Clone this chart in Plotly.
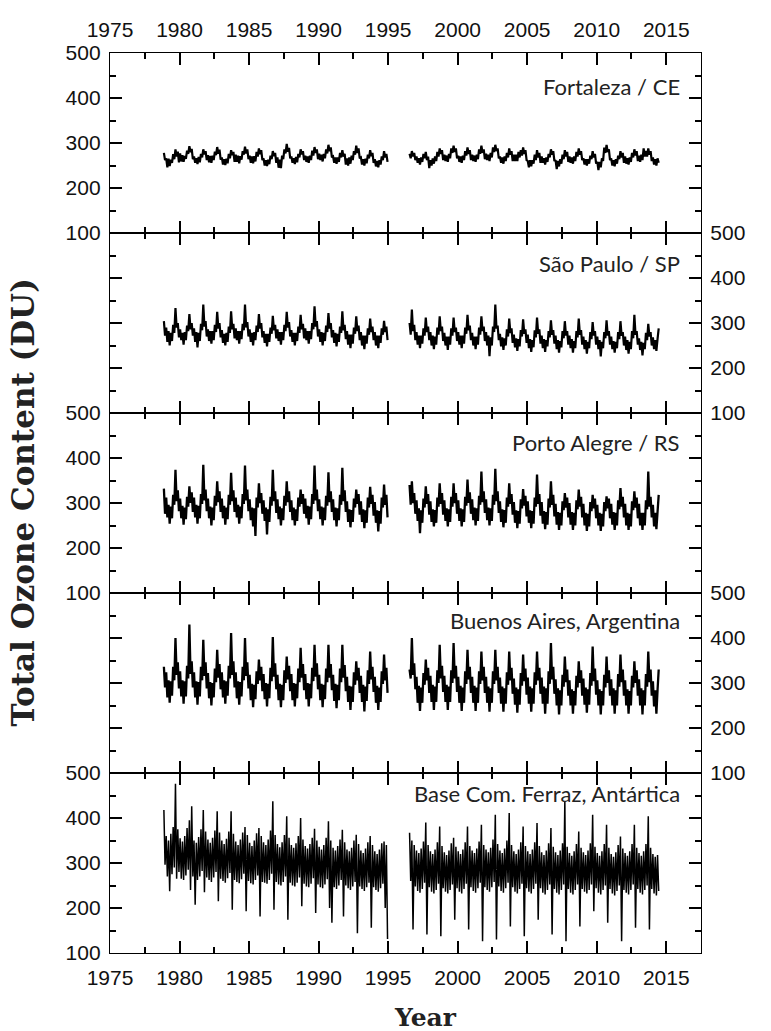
import plotly.graph_objects as go

# ---------------- data ----------------
YEAR_TICKS = [1975, 1980, 1985, 1990, 1995, 2000, 2005, 2010, 2015]
Y_TICKS = [100, 200, 300, 400, 500]
STATIONS = ["Fortaleza / CE", "São Paulo / SP", "Porto Alegre / RS",
            "Buenos Aires, Argentina", "Base Com. Ferraz, Antártica"]
SEG1_START = (1978, 11)   # first month of segment 1 (Nov 1978 .. Dec 1994)
SEG2_START = (1996, 7)    # first month of segment 2 (Jul 1996 .. Jun 2014)

# monthly samples (alternating daily highs / lows), DU
FORTALEZA_1 = [
    [278, 262],
    [266, 246, 265, 249, 263, 256, 275, 264, 286, 270, 281, 257],
    [277, 259, 273, 258, 271, 265, 283, 276, 293, 280, 287, 264],
    [270, 256, 266, 253, 269, 257, 276, 268, 286, 275, 282, 262],
    [273, 257, 271, 256, 272, 262, 281, 273, 291, 276, 285, 263],
    [268, 252, 264, 251, 265, 255, 276, 266, 284, 273, 280, 258],
    [274, 258, 272, 255, 271, 263, 282, 274, 292, 277, 286, 264],
    [272, 256, 270, 255, 271, 259, 280, 270, 288, 275, 284, 262],
    [266, 250, 262, 249, 263, 253, 272, 264, 282, 271, 278, 256],
    [268, 245, 263, 244, 272, 264, 286, 277, 298, 281, 289, 266],
    [270, 256, 266, 253, 269, 257, 276, 268, 286, 275, 282, 262],
    [272, 258, 270, 256, 272, 262, 283, 272, 291, 278, 286, 264],
    [276, 262, 274, 259, 276, 266, 286, 277, 296, 282, 290, 268],
    [270, 256, 268, 254, 268, 258, 278, 268, 284, 270, 276, 252],
    [266, 250, 268, 254, 272, 262, 282, 274, 294, 278, 288, 266],
    [268, 252, 264, 250, 265, 255, 274, 266, 284, 271, 278, 256],
    [264, 248, 260, 246, 262, 252, 270, 262, 282, 268, 276, 258],
]
FORTALEZA_2 = [
    [276, 266, 282, 270, 278, 262],
    [270, 256, 266, 252, 268, 258, 276, 266, 280, 262, 270, 244],
    [262, 250, 266, 254, 270, 260, 280, 270, 288, 276, 284, 262],
    [274, 260, 272, 258, 276, 266, 288, 278, 294, 280, 288, 266],
    [272, 258, 270, 256, 272, 262, 282, 272, 290, 276, 284, 262],
    [274, 260, 272, 258, 274, 264, 286, 276, 294, 278, 286, 264],
    [276, 262, 274, 260, 278, 268, 290, 280, 296, 282, 288, 266],
    [270, 256, 268, 254, 270, 260, 278, 268, 288, 274, 282, 260],
    [274, 260, 274, 260, 280, 268, 284, 272, 290, 276, 284, 262],
    [260, 246, 262, 248, 262, 254, 274, 262, 284, 268, 278, 256],
    [270, 256, 266, 252, 268, 258, 276, 268, 286, 274, 282, 260],
    [262, 242, 260, 248, 264, 254, 274, 264, 284, 270, 280, 258],
    [270, 256, 268, 254, 270, 260, 280, 270, 288, 274, 282, 262],
    [266, 252, 264, 250, 264, 254, 272, 264, 282, 268, 276, 254],
    [258, 240, 258, 246, 266, 260, 290, 278, 296, 280, 286, 262],
    [266, 250, 262, 248, 264, 254, 272, 264, 282, 268, 278, 256],
    [270, 254, 266, 252, 268, 258, 278, 268, 286, 272, 282, 260],
    [272, 258, 274, 262, 288, 270, 282, 270, 288, 274, 282, 260],
    [268, 252, 264, 250, 266, 256],
]

SAO_PAULO_1 = [
    [304, 272],
    [290, 258, 282, 250, 278, 260, 296, 278, 333, 290, 300, 268],
    [286, 262, 278, 252, 280, 262, 294, 282, 320, 286, 300, 272],
    [288, 258, 280, 246, 278, 260, 298, 284, 341, 292, 304, 270],
    [286, 260, 282, 254, 282, 262, 296, 280, 325, 288, 300, 268],
    [284, 256, 276, 250, 278, 258, 292, 278, 326, 286, 298, 266],
    [288, 262, 282, 254, 282, 264, 298, 284, 341, 290, 302, 270],
    [286, 258, 278, 250, 280, 262, 294, 280, 320, 288, 300, 268],
    [282, 256, 276, 248, 276, 258, 290, 276, 316, 284, 296, 266],
    [286, 260, 280, 252, 280, 262, 296, 282, 325, 290, 302, 270],
    [284, 258, 278, 250, 278, 260, 292, 278, 318, 286, 298, 266],
    [288, 262, 282, 254, 282, 264, 300, 286, 337, 292, 304, 270],
    [286, 258, 280, 250, 278, 260, 294, 280, 322, 288, 300, 268],
    [284, 256, 278, 248, 276, 258, 292, 278, 326, 284, 296, 264],
    [282, 252, 274, 244, 274, 254, 290, 276, 315, 282, 294, 262],
    [280, 250, 272, 242, 272, 254, 288, 274, 310, 280, 292, 262],
    [280, 250, 272, 244, 272, 256, 288, 274, 305, 280, 292, 262],
]
SAO_PAULO_2 = [
    [300, 274, 330, 282, 296, 262],
    [280, 252, 272, 244, 272, 254, 288, 272, 312, 280, 292, 262],
    [280, 250, 272, 242, 270, 252, 290, 274, 315, 282, 292, 260],
    [278, 250, 270, 240, 270, 252, 288, 272, 312, 280, 290, 260],
    [280, 252, 272, 244, 272, 254, 290, 276, 318, 284, 294, 262],
    [278, 250, 270, 242, 270, 252, 290, 274, 315, 282, 292, 260],
    [280, 250, 272, 226, 268, 250, 292, 280, 341, 288, 294, 262],
    [276, 248, 268, 240, 266, 250, 286, 270, 310, 278, 288, 256],
    [274, 246, 266, 238, 264, 248, 284, 270, 308, 276, 286, 256],
    [274, 244, 264, 236, 262, 246, 284, 268, 312, 276, 286, 254],
    [272, 244, 264, 236, 262, 248, 282, 268, 306, 274, 284, 254],
    [272, 242, 262, 234, 260, 246, 282, 266, 304, 272, 282, 252],
    [272, 244, 264, 234, 260, 244, 282, 268, 310, 274, 284, 252],
    [270, 242, 262, 232, 258, 244, 280, 264, 302, 272, 282, 252],
    [270, 242, 262, 226, 258, 244, 280, 266, 306, 272, 282, 252],
    [270, 242, 260, 234, 258, 244, 280, 264, 304, 272, 280, 250],
    [270, 240, 262, 232, 258, 242, 282, 266, 318, 274, 282, 252],
    [266, 240, 258, 228, 256, 242, 278, 262, 298, 270, 280, 250],
    [268, 242, 262, 238, 264, 288],
]

PORTO_ALEGRE_1 = [
    [332, 276],
    [312, 268, 296, 254, 292, 266, 318, 296, 374, 304, 328, 282],
    [310, 266, 294, 252, 290, 264, 314, 292, 337, 300, 324, 280],
    [312, 268, 296, 254, 294, 266, 320, 298, 385, 306, 330, 282],
    [310, 266, 292, 250, 290, 262, 316, 294, 348, 302, 326, 280],
    [310, 266, 294, 252, 290, 264, 318, 296, 367, 304, 328, 280],
    [312, 268, 296, 254, 292, 266, 320, 298, 383, 306, 330, 282],
    [308, 262, 290, 248, 288, 227, 312, 290, 344, 300, 322, 276],
    [306, 260, 290, 230, 286, 258, 314, 294, 374, 304, 326, 278],
    [308, 264, 292, 250, 288, 262, 316, 294, 348, 302, 326, 280],
    [306, 262, 290, 250, 286, 260, 312, 292, 330, 298, 320, 276],
    [310, 266, 294, 252, 292, 264, 320, 298, 383, 306, 330, 282],
    [308, 264, 292, 250, 290, 262, 316, 294, 368, 302, 326, 280],
    [308, 262, 290, 248, 288, 262, 318, 296, 378, 304, 328, 280],
    [304, 258, 286, 246, 284, 258, 310, 290, 330, 298, 320, 274],
    [304, 258, 286, 244, 284, 256, 312, 290, 336, 298, 318, 272],
    [302, 256, 284, 237, 282, 254, 312, 290, 341, 296, 318, 268],
]
PORTO_ALEGRE_2 = [
    [340, 296, 348, 300, 322, 276],
    [306, 260, 288, 233, 284, 256, 310, 290, 337, 298, 320, 274],
    [304, 258, 286, 248, 284, 256, 312, 292, 344, 298, 322, 274],
    [306, 260, 288, 248, 286, 258, 314, 292, 344, 300, 322, 276],
    [306, 260, 288, 248, 286, 258, 314, 294, 352, 300, 324, 276],
    [308, 262, 290, 250, 288, 260, 316, 296, 370, 302, 326, 278],
    [308, 262, 290, 250, 288, 260, 318, 296, 376, 304, 326, 278],
    [304, 258, 286, 246, 284, 256, 312, 292, 344, 298, 320, 274],
    [302, 256, 284, 244, 282, 254, 308, 288, 331, 294, 316, 270],
    [304, 256, 284, 244, 282, 254, 312, 292, 363, 298, 320, 272],
    [302, 254, 282, 242, 280, 252, 310, 290, 348, 296, 318, 270],
    [298, 252, 280, 240, 278, 250, 304, 284, 322, 290, 312, 268],
    [300, 252, 280, 240, 278, 250, 306, 286, 330, 292, 314, 268],
    [298, 250, 278, 238, 276, 248, 302, 282, 318, 288, 310, 266],
    [296, 250, 278, 238, 276, 248, 302, 282, 315, 288, 310, 266],
    [298, 252, 280, 240, 278, 250, 306, 286, 333, 292, 314, 268],
    [298, 250, 278, 240, 276, 248, 304, 284, 326, 290, 312, 266],
    [298, 250, 278, 240, 278, 250, 306, 286, 370, 292, 314, 268],
    [296, 248, 278, 242, 280, 318],
]

BUENOS_AIRES_1 = [
    [336, 290],
    [324, 268, 306, 256, 304, 272, 336, 306, 400, 318, 346, 288],
    [326, 270, 306, 254, 304, 270, 338, 310, 430, 320, 348, 290],
    [324, 268, 304, 252, 302, 270, 336, 306, 396, 316, 346, 288],
    [322, 266, 302, 250, 300, 268, 332, 302, 374, 312, 342, 286],
    [324, 268, 306, 254, 304, 272, 338, 310, 411, 318, 348, 290],
    [324, 266, 304, 252, 302, 270, 336, 306, 400, 316, 346, 288],
    [318, 262, 298, 246, 296, 264, 326, 298, 352, 306, 336, 282],
    [320, 264, 300, 248, 298, 266, 334, 304, 402, 314, 344, 286],
    [318, 262, 298, 246, 296, 262, 328, 300, 359, 308, 338, 282],
    [320, 262, 300, 248, 298, 266, 332, 302, 378, 312, 342, 284],
    [320, 264, 300, 248, 298, 266, 334, 304, 385, 314, 344, 286],
    [318, 262, 298, 246, 296, 264, 332, 302, 385, 312, 342, 284],
    [318, 260, 298, 244, 296, 262, 332, 302, 385, 312, 340, 282],
    [314, 258, 294, 240, 292, 258, 324, 296, 348, 306, 334, 278],
    [316, 258, 296, 237, 292, 260, 328, 298, 370, 308, 336, 280],
    [314, 256, 294, 240, 290, 258, 326, 298, 363, 306, 334, 278],
]
BUENOS_AIRES_2 = [
    [330, 310, 400, 318, 344, 286],
    [314, 256, 294, 238, 290, 256, 322, 296, 352, 306, 334, 278],
    [316, 258, 296, 240, 292, 258, 328, 300, 385, 310, 338, 280],
    [316, 258, 296, 240, 292, 258, 328, 300, 389, 310, 338, 280],
    [314, 256, 294, 238, 290, 256, 326, 298, 374, 308, 336, 278],
    [314, 256, 294, 238, 290, 256, 326, 298, 370, 306, 336, 278],
    [314, 256, 292, 236, 288, 256, 326, 298, 374, 306, 336, 278],
    [312, 254, 292, 236, 288, 254, 324, 296, 370, 306, 334, 276],
    [310, 252, 290, 234, 286, 252, 322, 294, 363, 304, 332, 274],
    [312, 254, 292, 236, 288, 254, 324, 296, 370, 306, 334, 276],
    [312, 254, 292, 232, 288, 254, 326, 298, 389, 308, 336, 276],
    [308, 250, 288, 230, 284, 250, 318, 292, 359, 302, 330, 272],
    [306, 250, 286, 232, 282, 250, 316, 290, 348, 300, 328, 272],
    [310, 252, 290, 234, 286, 252, 322, 294, 381, 304, 332, 274],
    [306, 250, 286, 230, 282, 250, 318, 290, 359, 300, 328, 272],
    [308, 250, 288, 232, 284, 250, 320, 292, 363, 302, 330, 272],
    [306, 250, 286, 232, 282, 250, 316, 290, 348, 300, 328, 272],
    [308, 250, 288, 230, 284, 250, 320, 292, 370, 302, 330, 272],
    [304, 248, 284, 232, 284, 330],
]

FERRAZ_1 = [
    [418, 296],
    [360, 270, 350, 237, 365, 275, 380, 290, 476, 265, 375, 280],
    [355, 265, 348, 262, 360, 272, 378, 285, 395, 240, 426, 270],
    [350, 207, 345, 262, 358, 270, 375, 282, 418, 235, 370, 268],
    [352, 262, 345, 258, 356, 268, 372, 280, 415, 215, 368, 265],
    [350, 260, 342, 256, 354, 266, 370, 278, 415, 196, 365, 262],
    [348, 258, 340, 255, 352, 264, 368, 276, 380, 193, 362, 260],
    [345, 255, 338, 252, 350, 262, 366, 272, 378, 181, 360, 258],
    [346, 256, 340, 254, 352, 262, 372, 276, 437, 196, 362, 258],
    [342, 252, 335, 250, 346, 258, 362, 270, 404, 174, 356, 256],
    [340, 250, 334, 248, 344, 256, 360, 268, 400, 204, 352, 254],
    [338, 248, 332, 246, 342, 254, 356, 266, 376, 189, 350, 252],
    [336, 246, 330, 244, 340, 252, 356, 264, 393, 200, 350, 167],
    [334, 246, 328, 242, 338, 250, 352, 262, 374, 181, 346, 250],
    [330, 244, 326, 240, 334, 248, 350, 258, 363, 144, 342, 248],
    [328, 242, 322, 238, 332, 246, 346, 256, 360, 156, 340, 246],
    [326, 240, 320, 236, 330, 244, 344, 254, 348, 200, 340, 131],
]
FERRAZ_2 = [
    [367, 260, 350, 152, 340, 248],
    [328, 238, 322, 234, 332, 242, 348, 256, 390, 141, 340, 246],
    [326, 236, 320, 232, 330, 240, 346, 254, 381, 137, 338, 244],
    [324, 236, 318, 232, 328, 240, 344, 252, 356, 174, 336, 244],
    [326, 236, 320, 232, 330, 242, 346, 254, 381, 152, 338, 246],
    [328, 238, 322, 234, 332, 244, 348, 256, 385, 126, 340, 246],
    [330, 240, 324, 236, 334, 246, 352, 258, 407, 130, 342, 248],
    [328, 238, 322, 234, 332, 244, 350, 256, 411, 159, 340, 246],
    [326, 236, 320, 232, 330, 242, 346, 254, 381, 137, 338, 244],
    [326, 236, 320, 232, 330, 242, 346, 254, 389, 174, 338, 244],
    [324, 234, 318, 230, 328, 240, 344, 252, 378, 141, 336, 242],
    [324, 234, 318, 230, 328, 240, 344, 252, 437, 126, 336, 242],
    [322, 234, 316, 230, 326, 240, 342, 252, 370, 159, 334, 242],
    [324, 236, 318, 232, 328, 240, 344, 252, 407, 193, 336, 244],
    [322, 234, 316, 230, 326, 240, 342, 250, 385, 167, 334, 242],
    [320, 232, 314, 228, 324, 238, 340, 250, 359, 126, 332, 240],
    [322, 234, 316, 230, 326, 240, 342, 252, 385, 156, 334, 242],
    [322, 234, 316, 230, 326, 240, 342, 250, 404, 152, 334, 242],
    [320, 232, 314, 228, 318, 238],
]

SERIES = [
    (FORTALEZA_1, FORTALEZA_2),
    (SAO_PAULO_1, SAO_PAULO_2),
    (PORTO_ALEGRE_1, PORTO_ALEGRE_2),
    (BUENOS_AIRES_1, BUENOS_AIRES_2),
    (FERRAZ_1, FERRAZ_2),
]
LABEL_Y = [425, 433, 435, 440, 455]
LINE_W = [2.2, 2.2, 2.3, 2.3, 1.5]


def segment_xy(rows, start):
    vals = [v for row in rows for v in row]
    y0, m0 = start
    xs = [y0 + (m0 - 1 + i + 0.5) / 12.0 for i in range(len(vals))]
    return xs, vals


# ---------------- figure ----------------
fig = go.Figure()
TICK_FONT = dict(family="Liberation Sans, Arial, sans-serif", size=21, color="#111")

for k, (seg1, seg2) in enumerate(SERIES):
    x1, v1 = segment_xy(seg1, SEG1_START)
    x2, v2 = segment_xy(seg2, SEG2_START)
    xs = x1 + [None] + x2
    ys = v1 + [None] + v2
    sfx = "" if k == 0 else str(k + 1)
    fig.add_trace(go.Scatter(x=xs, y=ys, mode="lines",
                             line=dict(color="black", width=LINE_W[k]),
                             xaxis="x" + sfx, yaxis="y" + sfx,
                             showlegend=False, connectgaps=False))

# page body adds ~8px offset; figure sized to fit the 771x1031 window
layout = dict(
    width=763, height=1023,
    margin=dict(l=102, r=70, t=45, b=78, autoexpand=False),
    paper_bgcolor="white", plot_bgcolor="white",
    showlegend=False,
)

n = 5
for k in range(n):
    sfx = "" if k == 0 else str(k + 1)
    top = 1 - k / n
    bot = 1 - (k + 1) / n
    xa = dict(
        domain=[0, 1], anchor="y" + sfx, automargin=False,
        range=[1975, 2017.5], tickvals=YEAR_TICKS,
        ticktext=[str(t) for t in YEAR_TICKS],
        ticks="inside", ticklen=12, tickwidth=2, tickcolor="black",
        minor=dict(ticks="inside", ticklen=6, tickwidth=2, tickcolor="black",
                   dtick=2.5, tick0=1975),
        showline=True, linewidth=1.3, linecolor="black", mirror="ticks",
        showgrid=False, zeroline=False, tickfont=TICK_FONT,
        ticklabelstandoff=6,
    )
    if k == 0:
        xa["side"] = "top"
        xa["showticklabels"] = True
    elif k == n - 1:
        xa["side"] = "bottom"
        xa["showticklabels"] = True
    else:
        xa["showticklabels"] = False
    if k > 0:
        xa["matches"] = "x"
    ya = dict(
        domain=[bot, top], anchor="x" + sfx, automargin=False,
        range=[100, 500], tickvals=Y_TICKS,
        ticks="inside", ticklen=12, tickwidth=2, tickcolor="black",
        minor=dict(ticks="inside", ticklen=6, tickwidth=2, tickcolor="black",
                   dtick=50, tick0=100),
        showline=True, linewidth=1.3, linecolor="black", mirror="ticks",
        showgrid=False, zeroline=False, tickfont=TICK_FONT,
        side="left" if k % 2 == 0 else "right",
        ticklabelstandoff=4,
    )
    layout["xaxis" + sfx] = xa
    layout["yaxis" + sfx] = ya

annotations = []
for k, name in enumerate(STATIONS):
    sfx = "" if k == 0 else str(k + 1)
    annotations.append(dict(
        text=name, x=2016.1, y=LABEL_Y[k], xref="x" + sfx, yref="y" + sfx,
        xanchor="right", yanchor="middle", showarrow=False,
        font=dict(family="Lato, Open Sans, sans-serif", size=22, color="#222"),
    ))
annotations.append(dict(
    text="<b>Total Ozone Content (DU)</b>", x=-0.148, y=0.5,
    xref="paper", yref="paper", textangle=-90, showarrow=False,
    xanchor="center", yanchor="middle", borderpad=0,
    font=dict(family="DejaVu Serif, serif", size=31, color="#222"),
))
annotations.append(dict(
    text="<b>Year</b>", x=0.533, y=-0.072,
    xref="paper", yref="paper", showarrow=False,
    xanchor="center", yanchor="middle",
    font=dict(family="DejaVu Serif, serif", size=25, color="#222"),
))
layout["annotations"] = annotations

fig.update_layout(**layout)
fig.write_html("out.html")
